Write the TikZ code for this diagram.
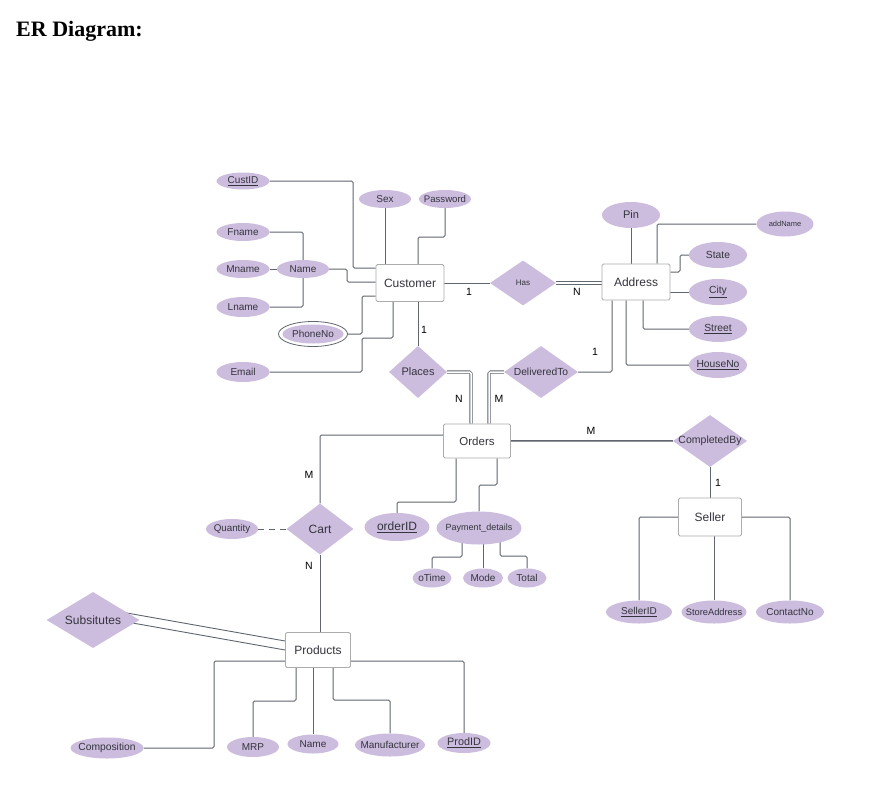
\documentclass[tikz,border=0pt]{standalone}
\usepackage{fontspec}
\setmainfont{Liberation Sans}
\newfontfamily\titlefont{Liberation Serif}
\usetikzlibrary{shapes.geometric,calc}
\pgfdeclarelayer{bg}
\pgfsetlayers{bg,main}
\definecolor{lav}{RGB}{204,188,221}
\definecolor{lc}{RGB}{96,102,110}
\definecolor{eb}{RGB}{172,172,172}
\definecolor{tc}{RGB}{52,52,62}
\newcommand\zw[1]{\makebox[0pt]{#1}}
\begin{document}
\begin{tikzpicture}[x=1pt,y=-1pt,
  conn/.style={draw=lc, line width=1pt, rounded corners=1.5pt},
  dbl/.style={draw=lc, line width=0.8pt, double=white, double distance=1.5pt, rounded corners=1.5pt},
  ent/.style 2 args={rectangle, draw=eb, fill=white, line width=0.8pt, rounded corners=1.5pt, inner sep=0pt, minimum width=#1, minimum height=#2, text=tc, font=\fontsize{12}{14}\selectfont},
  attr/.style 2 args={ellipse, fill=lav, inner sep=0pt, minimum width=#1, minimum height=#2, text=tc, font=\fontsize{10}{12}\selectfont},
  rel/.style 2 args={diamond, fill=lav, inner sep=0pt, minimum width=#1, minimum height=#2, text=tc, font=\fontsize{10.5}{12}\selectfont},
  fs/.style={font=\fontsize{#1}{#1}\selectfont},
  card/.style={text=black, font=\fontsize{10.5}{12}\selectfont, inner sep=0pt}]
\path[use as bounding box] (0,0) rectangle (874,784);

\node[anchor=base west, inner sep=0pt, font=\titlefont\bfseries\fontsize{22}{24}\selectfont] (title) at (16,37) {ER Diagram:};

% entities
\node[ent={68pt}{37pt}] (cust) at (410,283) {\zw{Customer}};
\node[ent={68pt}{36pt}] (addr) at (636,282) {\zw{Address}};
\node[ent={67pt}{34pt}, fs=11.5] (ord) at (477,441) {\zw{Orders}};
\node[ent={63pt}{38pt}] (sel) at (710,517) {\zw{Seller}};
\node[ent={65pt}{35pt}] (prod) at (318,650) {\zw{Products}};

% relationships
\node[rel={66pt}{45pt}, fs=8] (has) at (523,283) {\zw{Has}};
\node[rel={58pt}{52pt}, fs=11] (places) at (418,372) {\zw{Places}};
\node[rel={74pt}{52pt}, fs=10.3] (deliv) at (541,372) {\zw{DeliveredTo}};
\node[rel={74pt}{52pt}, fs=10.5] (compl) at (710,441) {\zw{CompletedBy}};
\node[rel={67pt}{51pt}, fs=12] (cart) at (320,529) {\zw{Cart}};
\node[rel={93pt}{56pt}, fs=12] (subs) at (93,620) {\zw{Subsitutes}};

% customer attributes
\node[attr={53pt}{17pt}] (custid) at (243,181) {\zw{\underline{CustID}}};
\node[attr={52pt}{18pt}] (sex) at (385,199) {\zw{Sex}};
\node[attr={52pt}{18pt}, fs=9.6] (pass) at (445,199) {\zw{Password}};
\node[attr={53pt}{18pt}] (fname) at (243,232) {\zw{Fname}};
\node[attr={53pt}{18pt}] (mname) at (243,269) {\zw{Mname}};
\node[attr={52pt}{18pt}] (cname) at (303,269) {\zw{Name}};
\node[attr={53pt}{20pt}] (lname) at (243,307) {\zw{Lname}};
\node[ellipse, draw=lc, line width=0.8pt, inner sep=0pt, minimum width=69pt, minimum height=25pt] (phoneo) at (313,334) {};
\node[attr={61pt}{19pt}] (phone) at (313,334) {\zw{PhoneNo}};
\node[attr={53pt}{20pt}] (email) at (243,372) {\zw{Email}};

% address attributes
\node[attr={58pt}{26pt}, fs=11] (pin) at (631,215) {\zw{Pin}};
\node[attr={57pt}{25pt}, fs=7.5] (addname) at (785,224) {\zw{addName}};
\node[attr={58pt}{26pt}, fs=10.3] (state) at (718,255) {\zw{State}};
\node[attr={58pt}{26pt}, fs=10.3] (city) at (718,292) {\zw{\underline{City}}};
\node[attr={58pt}{26pt}, fs=10.3] (street) at (718,329) {\zw{\underline{Street}}};
\node[attr={58pt}{26pt}, fs=10.3] (house) at (718,365) {\zw{\underline{HouseNo}}};

% orders attributes
\node[attr={52pt}{20pt}, fs=9.8] (qty) at (232,529) {\zw{Quantity}};
\node[attr={65pt}{28pt}, fs=12] (oid) at (397,527) {\zw{\underline{orderID}}};
\node[attr={85pt}{33pt}, fs=9] (pay) at (479,528) {\zw{Payment\_details}};
\node[attr={39pt}{19pt}] (otime) at (432,578) {\zw{oTime}};
\node[attr={40pt}{19pt}] (mode) at (483,578) {\zw{Mode}};
\node[attr={39pt}{19pt}] (total) at (527,578) {\zw{Total}};

% seller attributes
\node[attr={66pt}{23pt}] (sid) at (639,612) {\zw{\underline{SellerID}}};
\node[attr={65pt}{23pt}, fs=9.3] (saddr) at (714,612) {\zw{StoreAddress}};
\node[attr={68pt}{23pt}] (cno) at (790,612) {\zw{ContactNo}};

% product attributes
\node[attr={73pt}{21pt}, fs=10.3] (comp) at (107,748) {\zw{Composition}};
\node[attr={52pt}{20pt}] (mrp) at (253,747) {\zw{MRP}};
\node[attr={51pt}{19pt}] (pname) at (313,744) {\zw{Name}};
\node[attr={70pt}{23pt}] (manu) at (390,745) {\zw{Manufacturer}};
\node[attr={53pt}{20pt}, fs=10.8] (pid) at (464,743) {\zw{\underline{ProdID}}};

% cardinalities
\node[card] (c1) at (424,330) {1};
\node[card] (c2) at (469,292) {1};
\node[card] (c3) at (577,292) {N};
\node[card] (c4) at (595,352) {1};
\node[card] (c5) at (459,399) {N};
\node[card] (c6) at (499,399) {M};
\node[card] (c7) at (591,431) {M};
\node[card] (c8) at (718,483) {1};
\node[card] (c9) at (309,475) {M};
\node[card] (c10) at (309,566) {N};

\begin{pgfonlayer}{bg}
\fill[white] (0,0) rectangle (874,784);
% customer
\draw[conn] (custid.east) -| (353,268) -- (cust.west |- 353,268);
\draw[conn] (sex) -- (sex |- cust.north);
\draw[conn] (pass) |- (418,237) -- (418,237 |- cust.north);
\draw[conn] (cname.east) -| (347,282) -- (cust.west |- 347,282);
\draw[conn] (fname.east) -| (cname.north);
\draw[conn] (mname.east) -- (cname.west);
\draw[conn] (lname.east) -| (cname.south);
\draw[conn] (phoneo.east) -| (362,296) -- (cust.west |- 362,296);
\draw[conn] (email.east) -| (362,338) -| (393,0 |- cust.south);
\draw[conn] (places.north |- cust.south) -- (places.north);
\draw[conn] (cust.east) -- (has.west);
\draw[dbl] (has.east) -- (has.east -| addr.west);
% address
\draw[conn] (pin) -- (pin |- addr.north);
\draw[conn] (addname) -| (657,0 |- addr.north);
\draw[conn] (state) -| (680,272) -- (addr.east |- 680,272);
\draw[conn] (addr.east |- city) -- (city);
\draw[conn] (643,0 |- addr.south) |- (street);
\draw[conn] (626,0 |- addr.south) |- (house);
\draw[conn] (deliv.east) -| (612,0 |- addr.south);
% orders
\draw[dbl] (places.east) -| (471,0 |- ord.north);
\draw[dbl] (deliv.west) -| (489,0 |- ord.north);
\draw[draw=lc, line width=0.8pt, double=lc!70, double distance=0.9pt] (ord.east) -- (compl.west);
\draw[conn] (compl.south) -- (sel.north);
\draw[conn] (sel.west) -| (sid);
\draw[conn] (saddr |- sel.south) -- (saddr);
\draw[conn] (sel.east) -| (cno);
\draw[conn] ([yshift=6pt]ord.west) -| (cart.north);
\draw[conn] (456,0 |- ord.south) -- (456,502) -| (oid);
\draw[conn] (497,0 |- ord.south) -- (497,485) -| (pay);
\draw[conn] (462,0 |- pay) -- (462,557) -| (otime);
\draw[conn] (mode |- pay) -- (mode);
\draw[conn] (500,0 |- pay) -- (500,556) -| (total);
\draw[conn, dash pattern=on 6pt off 5pt] (qty.east) -- (cart.west);
\draw[conn] (cart.south) -- (cart.south |- prod.north);
% products
\draw[draw=lc, line width=0.9pt] ([yshift=13pt]subs.center) -- ([yshift=9pt]prod.west);
\draw[draw=lc, line width=0.9pt] ([yshift=4pt]subs.center) -- (prod.west);
\draw[conn] (comp.east) -| (214,661) -- ([yshift=-11pt]prod.west);
\draw[conn] (296,0 |- prod.south) -- (296,701) -| (mrp);
\draw[conn] (pname |- prod.south) -- (pname);
\draw[conn] (333,0 |- prod.south) -- (333,700) -| (manu);
\draw[conn] ([yshift=-11pt]prod.east) -| (pid);
\end{pgfonlayer}
\end{tikzpicture}
\end{document}
